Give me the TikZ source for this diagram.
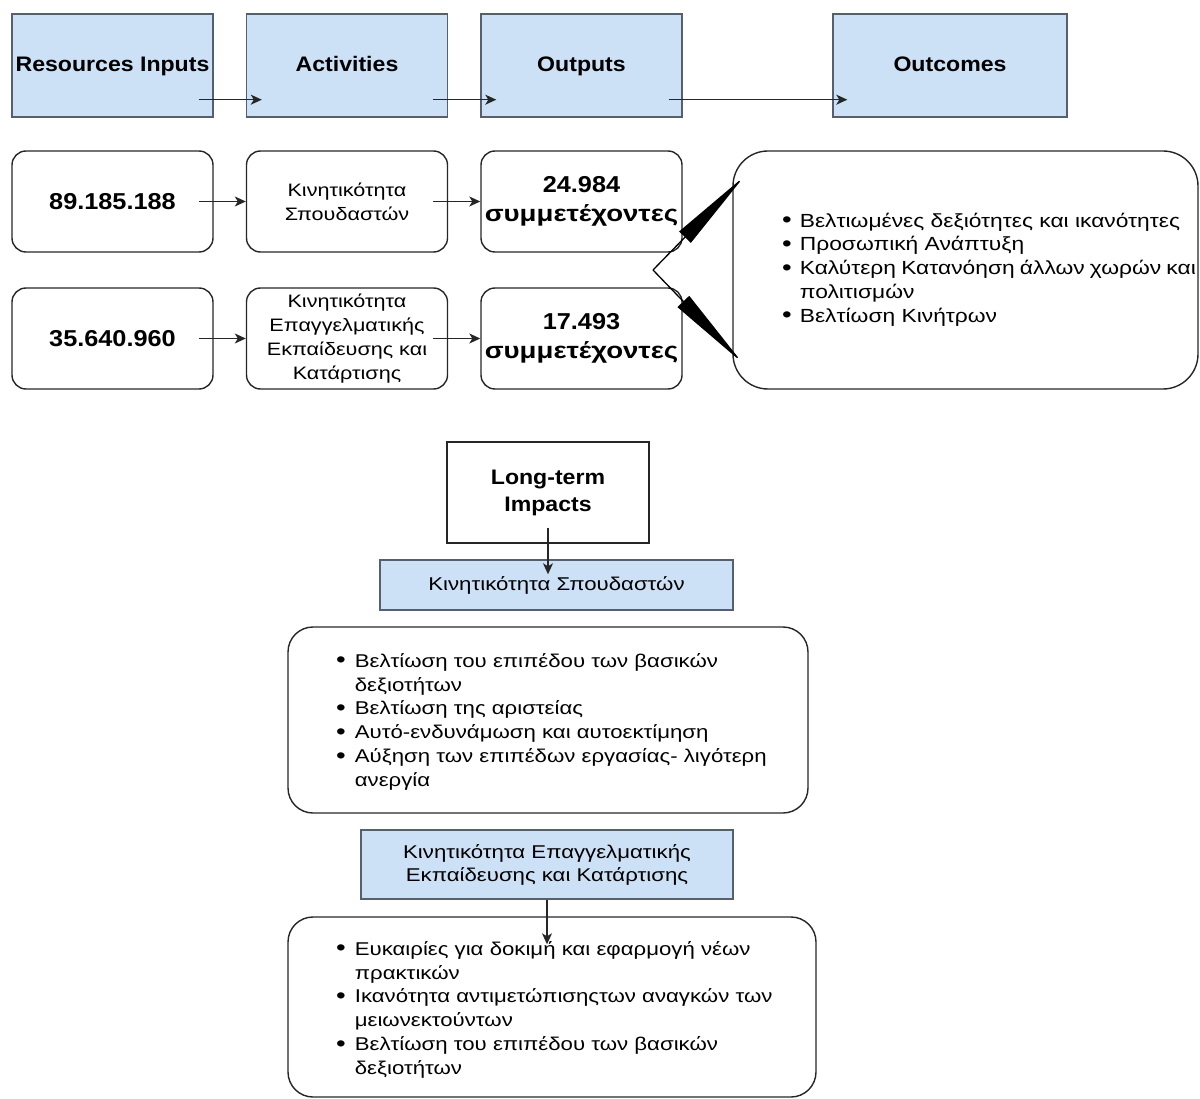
\documentclass[tikz,border=0pt]{standalone}
\usepackage{fontspec}
\setmainfont[FakeStretch=1.1]{Liberation Sans}
\newfontfamily\grk[FakeStretch=1.2]{Liberation Sans}
\newcommand\mybul{\raisebox{-0.6pt}{\fontsize{23}{23}\selectfont •}}
\usetikzlibrary{arrows.meta,calc}
\definecolor{hdrfill}{RGB}{204,224,246}
\definecolor{hdrline}{RGB}{85,95,110}
\begin{document}
\begin{tikzpicture}[x=1pt,y=1pt,
  bluebox/.style={draw=hdrline, fill=hdrfill, line width=1.4pt, inner sep=0pt, align=center},
  hdr/.style={bluebox, minimum width=201pt, minimum height=103pt, text height=15pt, text depth=2pt, font=\fontsize{21}{24}\selectfont\bfseries},
  rbox/.style={draw=black!85, line width=1.4pt, rounded corners=14pt, minimum width=201pt, minimum height=101pt, inner sep=0pt, align=center},
  numtxt/.style={font=\fontsize{23}{28}\selectfont\bfseries},
  acttxt/.style={font=\grk\fontsize{18}{24}\selectfont},
  outtxt/.style={font=\fontsize{23}{32}\selectfont\bfseries},
  bltxt/.style={font=\grk\fontsize{18.5}{23.8}\selectfont, inner sep=0pt},
  arr/.style={-{Stealth[length=11pt,width=10pt,inset=3pt]}, line width=1.3pt, draw=black!85},
  bigarr/.style={-{Triangle[length=85pt,width=16pt]}, line width=1.3pt, draw=black},
]
\useasboundingbox (0,0) rectangle (1200,-1099);

% header row
\node[hdr] (ri) at (112.5,-65.5) {Resources Inputs};
\node[hdr] (act) at (347,-65.5) {Activities};
\node[hdr] (out) at (581.5,-65.5) {Outputs};
\node[hdr, minimum width=234pt] (oc) at (950,-65.5) {Outcomes};
\draw[arr] ([shift={(-15pt,18pt)}]ri.south east) -- ([shift={(16pt,18pt)}]act.south west);
\draw[arr] ([shift={(-15pt,18pt)}]act.south east) -- ([shift={(16pt,18pt)}]out.south west);
\draw[arr] ([shift={(-14pt,18pt)}]out.south east) -- ([shift={(15pt,18pt)}]oc.south west);

% row 2
\node[rbox, numtxt] (n1) at (112.5,-201.5) {89.185.188};
\node[rbox, acttxt] (a1) at (347,-201.5) {Κινητικότητα\\Σπουδαστών};
\node[rbox, outtxt] (o1) at (581.5,-201.5) {\raisebox{-3pt}{24.984}\\{\grk συμμετέχοντες}};
\draw[arr] ([xshift=-15pt]n1.east) -- (a1.west);
\draw[arr] ([xshift=-15pt]a1.east) -- (o1.west);

% row 3
\node[rbox, numtxt] (n2) at (112.5,-338.5) {35.640.960};
\node[rbox, acttxt] (a2) at (347,-338.5) {Κινητικότητα\\Επαγγελματικής\\Εκπαίδευσης και\\Κατάρτισης};
\node[rbox, outtxt] (o2) at (581.5,-338.5) {\raisebox{-3pt}{17.493}\\{\grk συμμετέχοντες}};
\draw[arr] ([xshift=-15pt]n2.east) -- (a2.west);
\draw[arr] ([xshift=-15pt]a2.east) -- (o2.west);

% outcomes box
\node[rbox, rounded corners=35pt, minimum width=465pt, minimum height=238pt] (res) at (965.5,-270) {};
\node[bltxt, font=\grk\fontsize{19}{23.8}\selectfont, anchor=west] (restxt) at (782,-270) {%
\begin{tabular}{@{}l@{\hspace{8pt}}l@{}}
\mybul & Βελτιωμένες δεξιότητες και ικανότητες\\
\mybul & Προσωπική Ανάπτυξη\\
\mybul & \makebox[396pt][s]{Καλύτερη Κατανόηση άλλων χωρών και}\\
  & πολιτισμών\\
\mybul & Βελτίωση Κινήτρων
\end{tabular}};
\coordinate (v) at (653,-270);
\coordinate (t1) at ([shift={(12pt,-26pt)}]res.north west);
\coordinate (t2) at ([shift={(10pt,27pt)}]res.south west);
\draw[bigarr] (v) -- (t1);
\draw[bigarr] (v) -- (t2);

% long-term impacts
\node[draw=black!85, line width=1.4pt, minimum width=202pt, minimum height=101pt, inner sep=0pt, align=center, font=\fontsize{21}{27}\selectfont\bfseries] (lt) at (548,-492.5) {Long-term\\Impacts};
\node[bluebox, minimum width=353pt, minimum height=50pt, font=\grk\fontsize{18.5}{23}\selectfont] (b1) at (556.5,-585) {Κινητικότητα Σπουδαστών};
\draw[arr] ([yshift=16pt]lt.south) -- ($(lt.south |- b1.north)+(0,-15)$);

\node[rbox, rounded corners=25pt, minimum width=520pt, minimum height=186pt] (r1) at (548,-720) {};
\node[bltxt, anchor=west] (r1txt) at (336,-722) {%
\begin{tabular}{@{}l@{\hspace{9pt}}l@{}}
\mybul & Βελτίωση του επιπέδου των βασικών\\
  & δεξιοτήτων\\
\mybul & Βελτίωση της αριστείας\\
\mybul & Αυτό-ενδυνάμωση και αυτοεκτίμηση\\
\mybul & Αύξηση των επιπέδων εργασίας- λιγότερη\\
  & ανεργία
\end{tabular}};

\node[bluebox, minimum width=372pt, minimum height=69pt, font=\grk\fontsize{18.5}{23}\selectfont] (b2) at (547,-864.5) {Κινητικότητα Επαγγελματικής\\Εκπαίδευσης και Κατάρτισης};

\node[rbox, rounded corners=25pt, minimum width=528pt, minimum height=180pt] (r2) at (552,-1007) {};
\node[bltxt, anchor=west] (r2txt) at (336,-1010) {%
\begin{tabular}{@{}l@{\hspace{9pt}}l@{}}
\mybul & Ευκαιρίες για δοκιμή και εφαρμογή νέων\\
  & πρακτικών\\
\mybul & Ικανότητα αντιμετώπισηςτων αναγκών των\\
  & μειωνεκτούντων\\
\mybul & Βελτίωση του επιπέδου των βασικών\\
  & δεξιοτήτων
\end{tabular}};
\draw[arr] (b2.south) -- ($(b2.south |- r2.north)+(0,-28)$);
\end{tikzpicture}
\end{document}
